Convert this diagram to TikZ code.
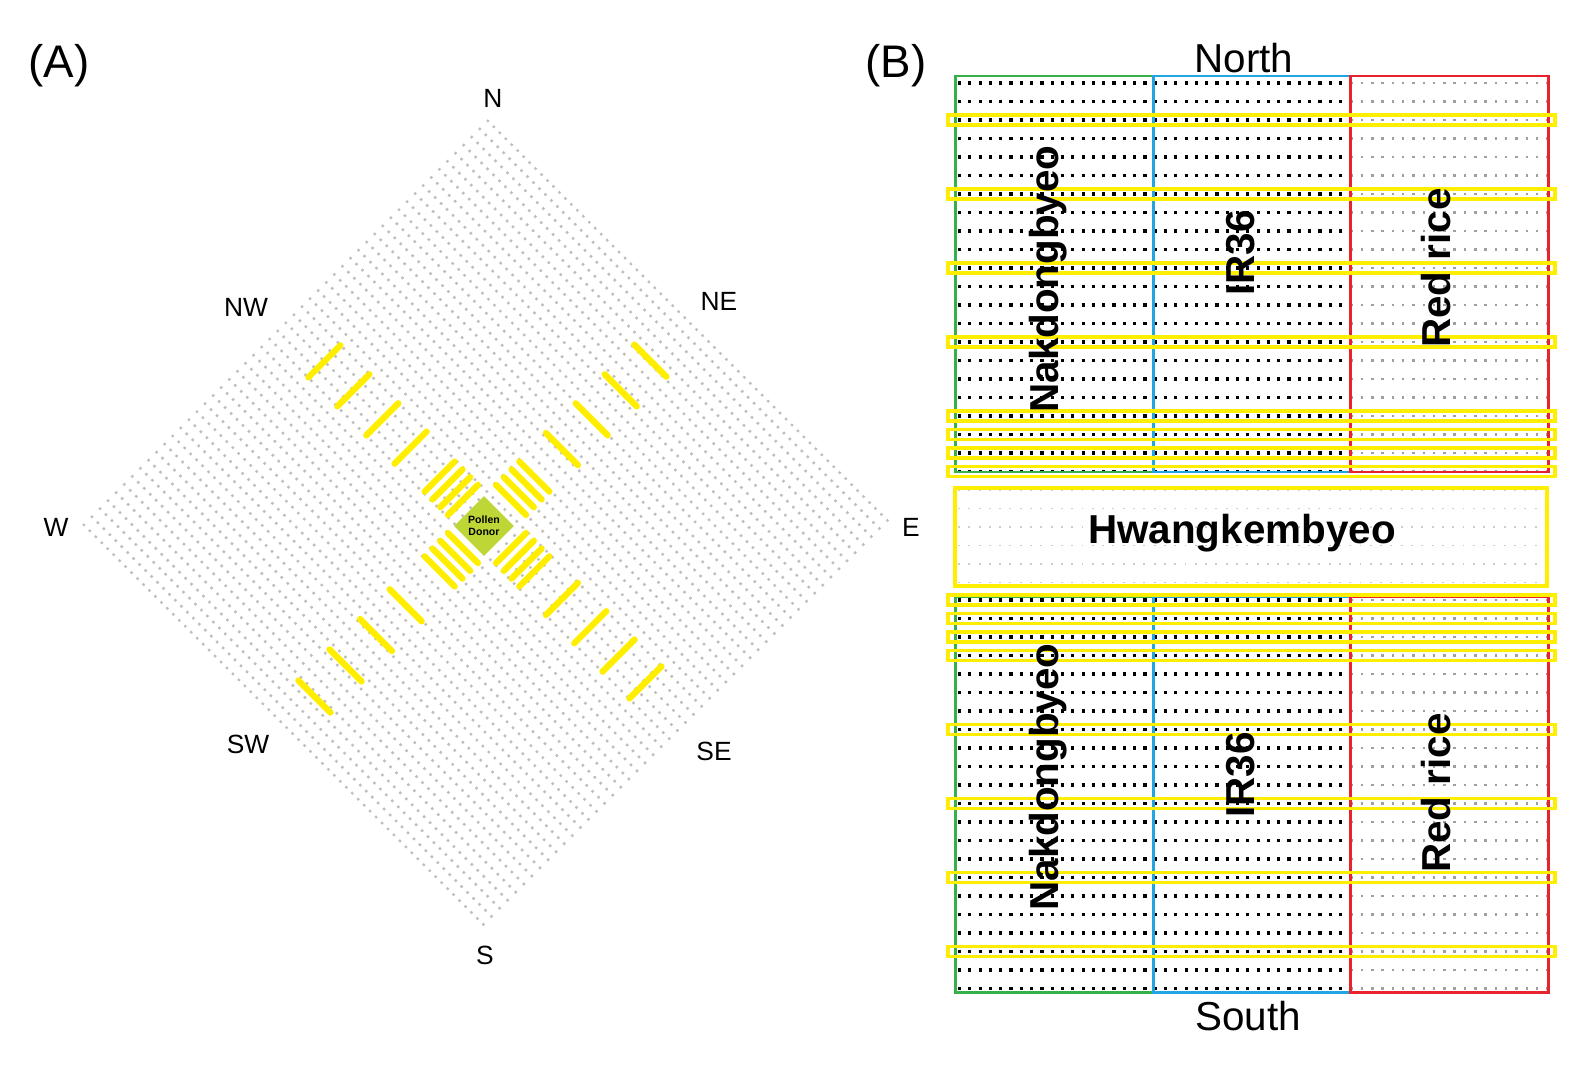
\documentclass[tikz,border=0pt]{standalone}
\usepackage{fontspec}
\setmainfont{Liberation Sans}
\usetikzlibrary{positioning, shapes.geometric}

\definecolor{plotgreen}{RGB}{55,175,75}
\definecolor{plotblue}{RGB}{35,165,225}
\definecolor{plotred}{RGB}{232,35,45}
\definecolor{bandyellow}{RGB}{255,238,0}
\definecolor{donorgreen}{RGB}{190,215,55}

\tikzset{
  compass/.style={font=\fontsize{15}{18}\selectfont},
  panel/.style={font=\fontsize{26}{30}\selectfont},
  side/.style={font=\fontsize{23}{27}\selectfont},
  variety/.style={font=\fontsize{23}{27}\selectfont\bfseries},
  hillrow/.style={gray!50, line width=1.4pt, dash pattern=on 1.4pt off 3.4pt},
  seedrow/.style={black, line width=1.9pt, dash pattern=on 1.8pt off 4.06pt},
  redrow/.style={gray!75, line width=1.2pt, dash pattern=on 1.4pt off 4.46pt},
  midrow/.style={gray!40, line width=1.1pt, dash pattern=on 1.1pt off 4.76pt},
  bar/.style={bandyellow, line width=3.6pt, line cap=round},
  strip/.style={bandyellow, line width=2.2pt},
  plotframe/.style={line width=1.7pt}
}

\begin{document}
\begin{tikzpicture}[x=0.02cm, y=-0.02cm]
\useasboundingbox (0,0) rectangle (1588,1071);

% (A) diamond field
\foreach \k in {0,...,50} {
  \pgfmathsetmacro\rowshift{8.08*\k}
  \draw[hillrow] ({83+\rowshift},{524-\rowshift}) -- ({487+\rowshift},{928-\rowshift});
}
\begin{scope}[shift={(487,524)}]
  % bars near the donor
  \foreach \d [evaluate=\d as \a using 0.7071*\d] in {34,45,56,67} {
    \draw[bar] ({-\a-15},{-\a+15}) -- ({-\a+15},{-\a-15}); % NW
    \draw[bar] ({\a-15},{-\a-15}) -- ({\a+15},{-\a+15});   % NE
    \draw[bar] ({-\a-15},{\a-15}) -- ({-\a+15},{\a+15});   % SW
    \draw[bar] ({\a-15},{\a+15}) -- ({\a+15},{\a-15});     % SE
  }
  % bars along the arms
  \foreach \d [evaluate=\d as \a using 0.7071*\d] in {108,148,189,230}
    \draw[bar] ({-\a-16},{-\a+16}) -- ({-\a+16},{-\a-16}); % NW
  \foreach \d [evaluate=\d as \a using 0.7071*\d] in {106,148,189,231}
    \draw[bar] ({\a-16},{-\a-16}) -- ({\a+16},{-\a+16});   % NE
  \foreach \d [evaluate=\d as \a using 0.7071*\d] in {115,157,200,244}
    \draw[bar] ({-\a-16},{\a-16}) -- ({-\a+16},{\a+16});   % SW
  \foreach \d [evaluate=\d as \a using 0.7071*\d] in {106,146,186,224}
    \draw[bar] ({\a-16},{\a+16}) -- ({\a+16},{\a-16});     % SE
\end{scope}
\node[diamond, fill=donorgreen, inner sep=0pt, minimum size=1.2cm, align=center,
      font=\fontsize{6}{6.6}\selectfont\bfseries] (donor) at (484,526) {Pollen\\Donor};

\node[panel] (pa) at (59,66) {(A)};
\node[compass] (n)  at (493,98)  {N};
\node[compass] (ne) at (719,301) {NE};
\node[compass] (e)  at (911,527) {E};
\node[compass] (se) at (714,751) {SE};
\node[compass] (s)  at (485,955) {S};
\node[compass] (sw) at (248,744) {SW};
\node[compass] (w)  at (56,527)  {W};
\node[compass] (nw) at (246,307) {NW};

% (B) plot layout
\foreach \k in {0,...,21} {
  \pgfmathsetmacro\ry{83+18.5*\k}
  \draw[seedrow] (958,\ry) -- (1346,\ry);
  \draw[redrow] (1350.5,\ry) -- (1547,\ry);
  \pgfmathsetmacro\ry{600+18.5*\k}
  \draw[seedrow] (958,\ry) -- (1346,\ry);
  \draw[redrow] (1350.5,\ry) -- (1547,\ry);
}
\foreach \k in {0,...,5}
  \draw[midrow] (958,{490+18.5*\k}) -- (1547,{490+18.5*\k});

\draw[plotframe, plotgreen] (955,76) rectangle (1153,472);
\draw[plotframe, plotblue] (1153,76) rectangle (1350,472);
\draw[plotframe, plotred] (1350,76) rectangle (1548,472);
\draw[plotframe, plotgreen] (955,597) rectangle (1153,992);
\draw[plotframe, plotblue] (1153,597) rectangle (1350,992);
\draw[plotframe, plotred] (1350,597) rectangle (1548,992);

\foreach \k in {2,6,10,14,18,19,20,21}
  \draw[strip] (948,{83+18.5*\k-5}) rectangle (1555,{83+18.5*\k+5});
\foreach \k in {0,1,2,3,7,11,15,19}
  \draw[strip] (948,{600+18.5*\k-5}) rectangle (1555,{600+18.5*\k+5});
\draw[strip] (955,488) rectangle (1547,586);

\node[panel] (pb) at (896,66) {(B)};
\node[side] (north) at (1244,58) {North};
\node[side] (south) at (1248,1016) {South};
\node[variety, rotate=90] (nak1) at (1048,279) {Nakdongbyeo};
\node[variety, rotate=90] (ir1) at (1241,253) {IR36};
\node[variety, rotate=90] (red1) at (1436,268) {Red rice};
\node[variety] (hwang) at (1242,533) {Hwangkembyeo};
\node[variety, rotate=90] (nak2) at (1048,777) {Nakdongbyeo};
\node[variety, rotate=90] (ir2) at (1241,775) {IR36};
\node[variety, rotate=90] (red2) at (1436,793) {Red rice};
\end{tikzpicture}
\end{document}
